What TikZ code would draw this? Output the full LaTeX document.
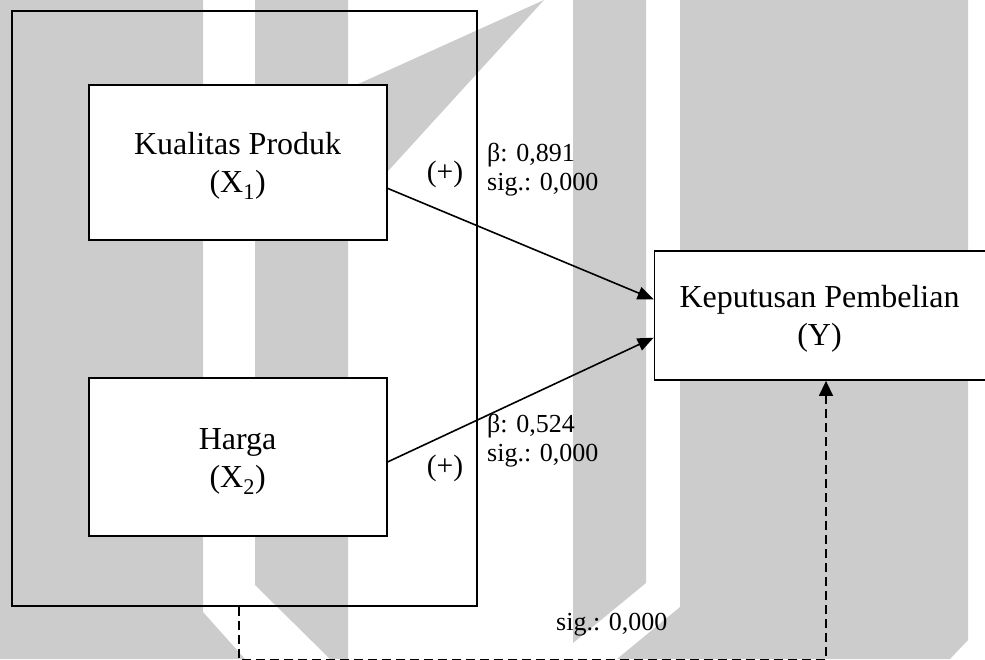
\documentclass[tikz,border=0pt]{standalone}
\usepackage{fontspec}
\setmainfont{Liberation Serif}
\usetikzlibrary{arrows.meta,calc}
\definecolor{wm}{RGB}{204,204,204}
\tikzset{
  box/.style={draw, line width=1.8pt, fill=white, inner sep=0pt},
  outerbox/.style={draw, line width=1.8pt, inner sep=0pt},
  maintxt/.style={align=center, font=\fontsize{32}{38}\selectfont, inner sep=0pt},
  smalltxt/.style={font=\fontsize{26}{29}\selectfont, inner sep=0pt, anchor=base west},
  signtxt/.style={font=\fontsize{29.5}{32}\selectfont, inner sep=0pt, anchor=base},
  conn/.style={line width=1.6pt, -{Triangle[length=16pt,width=13pt]}},
  dconn/.style={line width=1.5pt, dash pattern=on 9pt off 5pt, -{Triangle[length=15pt,width=14pt]}},
  wmark/.style={fill=wm, draw=none}
}
\begin{document}
\begin{tikzpicture}[x=1pt,y=-1pt]
\useasboundingbox (0,0) rectangle (985,659);
% watermark
\fill[wmark] (0,0) -- (203,0) -- (203,612) -- (245,659) -- (0,659) -- cycle;
\fill[wmark] (255,0) -- (348,0) -- (348,659) -- (330,659) -- (255,585) -- cycle;
\fill[wmark] (348,88.6) -- (544,0) -- (348,215) -- cycle;
\fill[wmark] (573,0) -- (646,0) -- (646,583) -- (573,643) -- cycle;
\fill[wmark] (680,0) -- (968,0) -- (968,640) -- (950,659) -- (617,659) -- (680,607) -- cycle;
% boxes
\node[outerbox, minimum width=465pt, minimum height=595pt] (grp) at (244.5,308.5) {};
\node[box, minimum width=298pt, minimum height=155pt] (kp) at (237.6,162.5) {};
\node[box, minimum width=298pt, minimum height=158pt] (hg) at (237.6,456.8) {};
\node[box, minimum width=345pt, minimum height=129pt] (y) at (827,315.5) {};
% box texts
\node[maintxt] (kpt) at ([yshift=-3.7pt]kp.center) {Kualitas Produk\\(X\textsubscript{1})};
\node[maintxt] (hgt) at ([yshift=-5pt]hg.center) {Harga\\(X\textsubscript{2})};
\node[maintxt] (yt) at ([xshift=-7.5pt,yshift=-3.5pt]y.center) {Keputusan Pembelian\\(Y)};
% connectors
\draw[conn] ([yshift=-25.8pt]kp.east) -- ([yshift=16.2pt]y.west);
\draw[conn] ([yshift=-5.2pt]hg.east) -- ([yshift=-22.2pt]y.west);
\coordinate (cA) at (239,660.0);
\coordinate (cB) at (826,660.0);
\draw[dconn] ([xshift=-5.5pt]grp.south) -- (cA) -- (cB) -- ([xshift=-1pt]y.south);
% labels
\node[signtxt] (p1) at (445,181.5) {(+)};
\node[signtxt] (p2) at (445,475.5) {(+)};
\node[smalltxt] (b1) at (487,161.7) {β: 0,891};
\node[smalltxt] (s1) at (487,190.7) {sig.: 0,000};
\node[smalltxt] (b2) at (487,432.7) {β: 0,524};
\node[smalltxt] (s2) at (487,461.7) {sig.: 0,000};
\node[smalltxt] (s3) at (556,630.7) {sig.: 0,000};
\end{tikzpicture}
\end{document}
